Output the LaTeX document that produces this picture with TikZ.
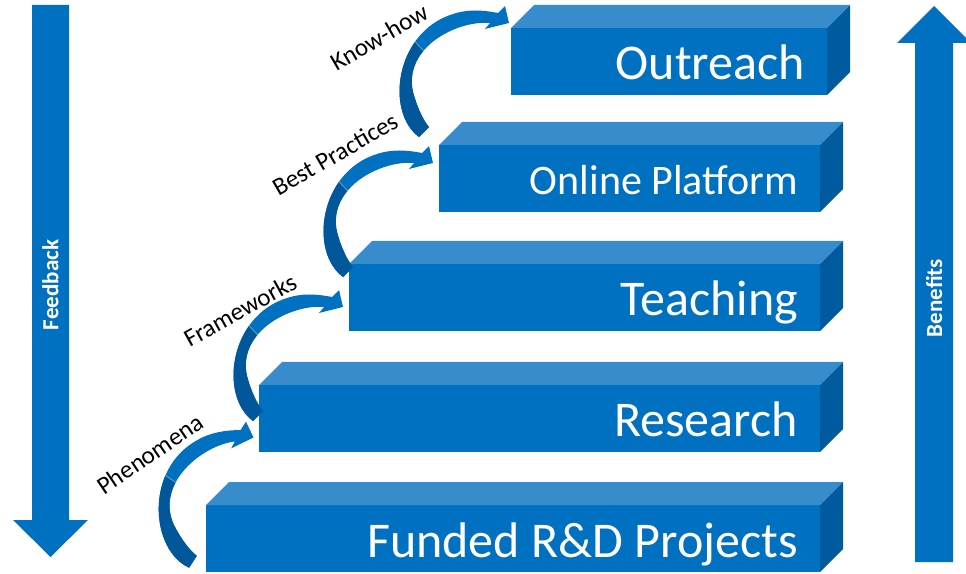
\documentclass[tikz,border=0pt]{standalone}
\usepackage{fontspec}
\setmainfont{Carlito}
\usetikzlibrary{calc}
\definecolor{mid}{RGB}{0,112,192}
\definecolor{topc}{RGB}{56,140,204}
\definecolor{sidec}{RGB}{0,90,158}
\definecolor{darkarc}{RGB}{0,88,155}
\tikzset{
  front/.style={fill=mid, inner sep=0pt, outer sep=0pt, minimum height=67pt, anchor=south west},
  boxtext/.style={text=white, inner sep=0pt, anchor=base east},
  flowlabel/.style={font=\fontsize{25}{25}\selectfont, inner sep=0pt},
  sidetext/.style={text=white, font=\bfseries\fontsize{23}{23}\selectfont, inner sep=0pt},
  bigarrow/.style={fill=mid},
}
\newcommand\tierbox[6]{% name, x, y, width, size, text
  \node[front, minimum width=#4pt] (#1) at (#2,#3) {};
  \fill[topc] (#1.north west) -- ++(23,23) -- ([shift={(23,23)}]#1.north east) -- (#1.north east) -- cycle;
  \fill[sidec] (#1.north east) -- ++(23,23) -- ([shift={(23,23)}]#1.south east) -- (#1.south east) -- cycle;
  \node[boxtext, font=\fontsize{#5}{#5}\selectfont] (#1-label) at ([shift={(-22,-0.37*#5)}]#1.east) {#6};
}
\newcommand\arcshape{(-4,-5) .. controls (-38,20) and (-28,100) .. (30,118) .. controls (45,123) and (60,122) .. (75,119) -- (82,126) -- (86,109) -- (62,103) -- (67,109) .. controls (35,112) and (-20,85) .. (-10,40) .. controls (-6,25) and (0,12) .. (6,5) -- cycle}
\newcommand\flowarc[3]{% x, y, rotation
  \begin{scope}[shift={(#1,#2)}, rotate=#3]
    \clip \arcshape;
    \fill[mid] (-60,-20) rectangle (100,140);
    \fill[darkarc] (25,55) -- (-45,130) -- (-100,-60) -- (100,-60) -- cycle;
    \draw[white, opacity=0.35, line width=1pt] (25,55) -- (-45,130);
  \end{scope}}
\begin{document}
\begin{tikzpicture}[x=1pt,y=1pt]
\useasboundingbox (0,0) rectangle (966,573);
% side arrows
\fill[bigarrow] (32,568) -- (69,568) -- (69,53) -- (88,53) -- (50.5,16) -- (13,53) -- (32,53) -- cycle;
\node[sidetext, rotate=90] (fb) at (50.5,288) {Feedback};
\fill[bigarrow] (915,11) -- (953,11) -- (953,530) -- (971,530) -- (934,567) -- (897,530) -- (915,530) -- cycle;
\node[sidetext, rotate=90] (bn) at (934,275) {Benefits};
% tiers
\tierbox{funded}{206}{1}{614}{50}{Funded R\&D Projects}
\tierbox{research}{259}{121}{561}{50}{Research}
\tierbox{teaching}{349}{242}{471}{50}{Teaching}
\tierbox{online}{439}{361}{381}{42}{Online Platform}
\tierbox{outreach}{511}{478}{316}{50}{Outreach}
% curved arrows
\flowarc{192}{11}{12}
\flowarc{257}{157}{0}
\flowarc{347}{301}{0}
\flowarc{423}{441}{0}
% labels
\node[flowlabel, rotate=34] (ph) at (150,119) {Phenomena};
\node[flowlabel, rotate=29] (fw) at (240,263) {Frameworks};
\node[flowlabel, rotate=30] (bp) at (335,419) {Best Practices};
\node[flowlabel, rotate=30] (kh) at (379,536) {Know-how};
\end{tikzpicture}
\end{document}
